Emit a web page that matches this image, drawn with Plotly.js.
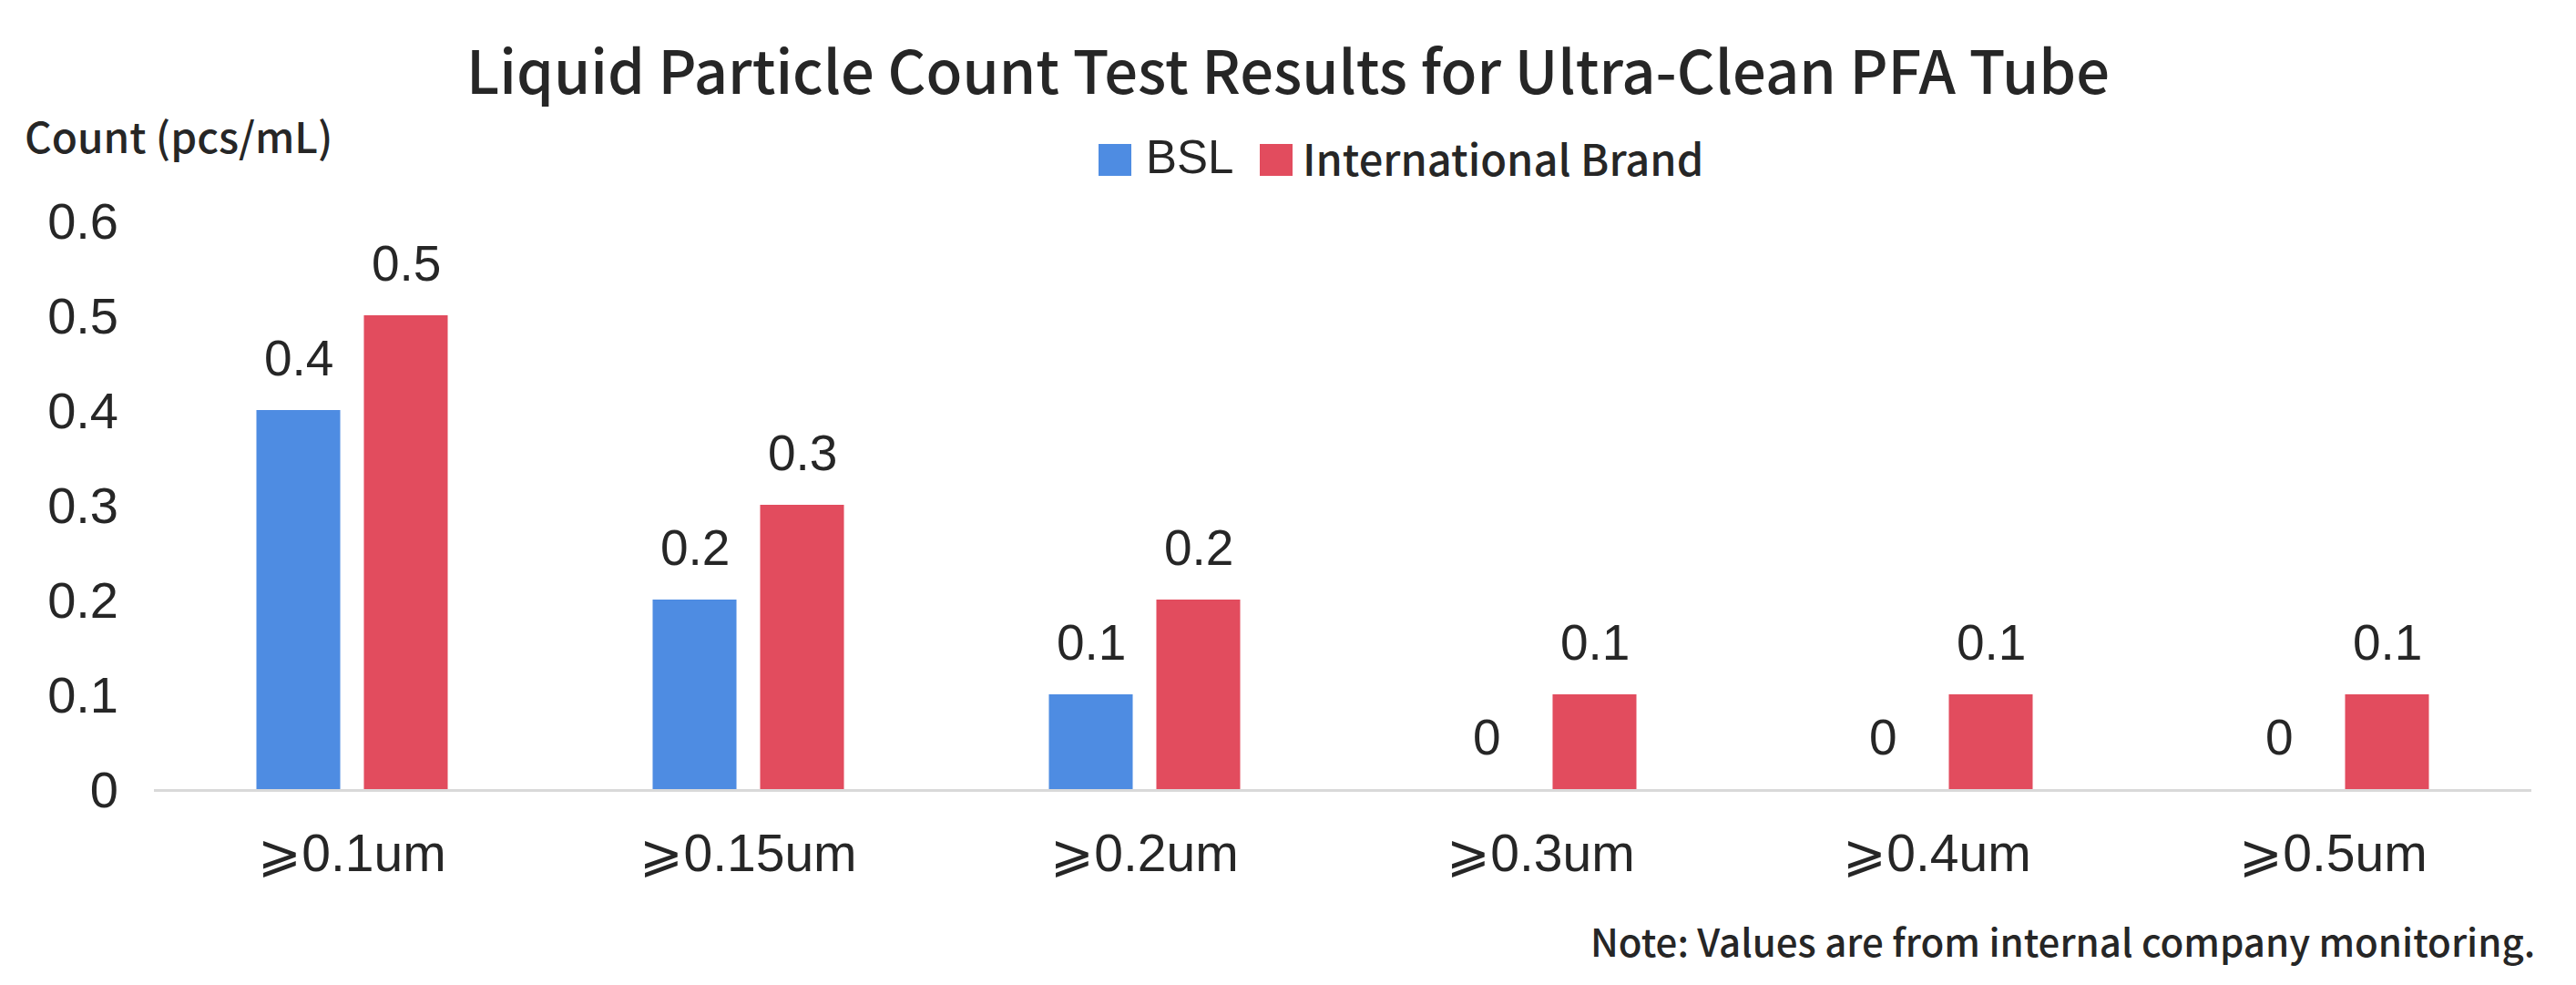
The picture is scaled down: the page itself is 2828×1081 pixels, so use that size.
<!DOCTYPE html>
<html>
<head>
<meta charset="utf-8">
<script src="https://cdn.plot.ly/plotly-3.0.1.min.js"></script>
<style>
  html, body { margin: 0; padding: 0; background: #ffffff; }
  #chart { width: 2828px; height: 1081px; }
</style>
</head>
<body>
<div id="chart"></div>
<script>
// ---- data ----
const categories = ["⩾0.1um", "⩾0.15um", "⩾0.2um", "⩾0.3um", "⩾0.4um", "⩾0.5um"];
const bslValues = [0.4, 0.2, 0.1, 0, 0, 0];
const intlValues = [0.5, 0.3, 0.2, 0.1, 0.1, 0.1];
const seriesNames = ["BSL", "International Brand"];
const yTickValues = [0, 0.1, 0.2, 0.3, 0.4, 0.5, 0.6];
const yTickLabels = ["0", "0.1", "0.2", "0.3", "0.4", "0.5", "0.6"];

// ---- style ----
const W = 2828, H = 1081;
const plotL = 169, plotR = 2779, plotT = 242, plotB = 866;
const blue = "#4E8CE2", red = "#E24C5E", ink = "#262626";
const arial = "Liberation Sans, Arial, sans-serif";
const cjk = "Noto Sans CJK SC, Noto Sans, sans-serif";
const px = x => (x - plotL) / (plotR - plotL);
const py = y => (plotB - y) / (plotB - plotT);

const traces = [
  { type: "bar", name: seriesNames[0], x: categories, y: bslValues,
    marker: { color: blue }, hoverinfo: "skip", showlegend: false },
  { type: "bar", name: seriesNames[1], x: categories, y: intlValues,
    marker: { color: red }, hoverinfo: "skip", showlegend: false }
];

const annotations = [];
const slotShift = 59;
[bslValues, intlValues].forEach((vals, i) => {
  vals.forEach((v, j) => {
    annotations.push({
      x: categories[j], y: v, xref: "x", yref: "y",
      xshift: i === 0 ? -slotShift : slotShift, yshift: 57,
      text: String(v), showarrow: false, xanchor: "center", yanchor: "middle",
      font: { family: arial, size: 55, color: ink }
    });
  });
});

// y-axis title (horizontal, top-left)
annotations.push({
  xref: "paper", yref: "paper", x: px(25), y: py(148),
  xanchor: "left", yanchor: "middle", showarrow: false,
  text: "Count (pcs/mL)", font: { family: cjk, size: 46, weight: 500, color: ink }
});
// note
annotations.push({
  xref: "paper", yref: "paper", x: px(2785), y: py(1031),
  xanchor: "right", yanchor: "middle", showarrow: false,
  text: "Note: Values are from internal company monitoring.",
  font: { family: cjk, size: 42, weight: 500, color: ink }
});
// legend labels
annotations.push({
  xref: "paper", yref: "paper", x: px(1256), y: py(173),
  xanchor: "left", yanchor: "middle", showarrow: false,
  text: seriesNames[0], font: { family: arial, size: 51, color: ink }
});
annotations.push({
  xref: "paper", yref: "paper", x: px(1428), y: py(173),
  xanchor: "left", yanchor: "middle", showarrow: false,
  text: seriesNames[1], font: { family: cjk, size: 47, weight: 500, color: ink }
});

const shapes = [
  { type: "rect", xref: "paper", yref: "paper", x0: px(1206), x1: px(1242), y0: py(193), y1: py(158),
    fillcolor: blue, line: { width: 0 } },
  { type: "rect", xref: "paper", yref: "paper", x0: px(1383), x1: px(1419), y0: py(193), y1: py(158),
    fillcolor: red, line: { width: 0 } }
];

const layout = {
  width: W, height: H,
  paper_bgcolor: "#ffffff", plot_bgcolor: "#ffffff",
  margin: { l: plotL, r: W - plotR, t: plotT, b: H - plotB, pad: 0 },
  title: {
    text: "Liquid Particle Count Test Results for Ultra-Clean PFA Tube",
    font: { family: cjk, size: 65, weight: 500, color: ink },
    x: 0.5, xref: "container", xanchor: "center",
    y: 1 - 80 / H, yref: "container", yanchor: "middle"
  },
  barmode: "group",
  bargap: 0.4575,
  bargroupgap: 0.22,
  showlegend: false,
  xaxis: {
    type: "category",
    showline: true, linecolor: "#d9d9d9", linewidth: 3,
    showgrid: false, zeroline: false, ticks: "",
    tickfont: { family: arial, size: 57, color: ink },
    ticklabelstandoff: 19
  },
  yaxis: {
    range: [0, 0.6],
    tickvals: yTickValues, ticktext: yTickLabels,
    showline: false, showgrid: false, zeroline: false, ticks: "",
    tickfont: { family: arial, size: 56, color: ink },
    ticklabelstandoff: 38
  },
  annotations: annotations,
  shapes: shapes
};

Plotly.newPlot("chart", traces, layout, { staticPlot: true, displayModeBar: false });
</script>
</body>
</html>
